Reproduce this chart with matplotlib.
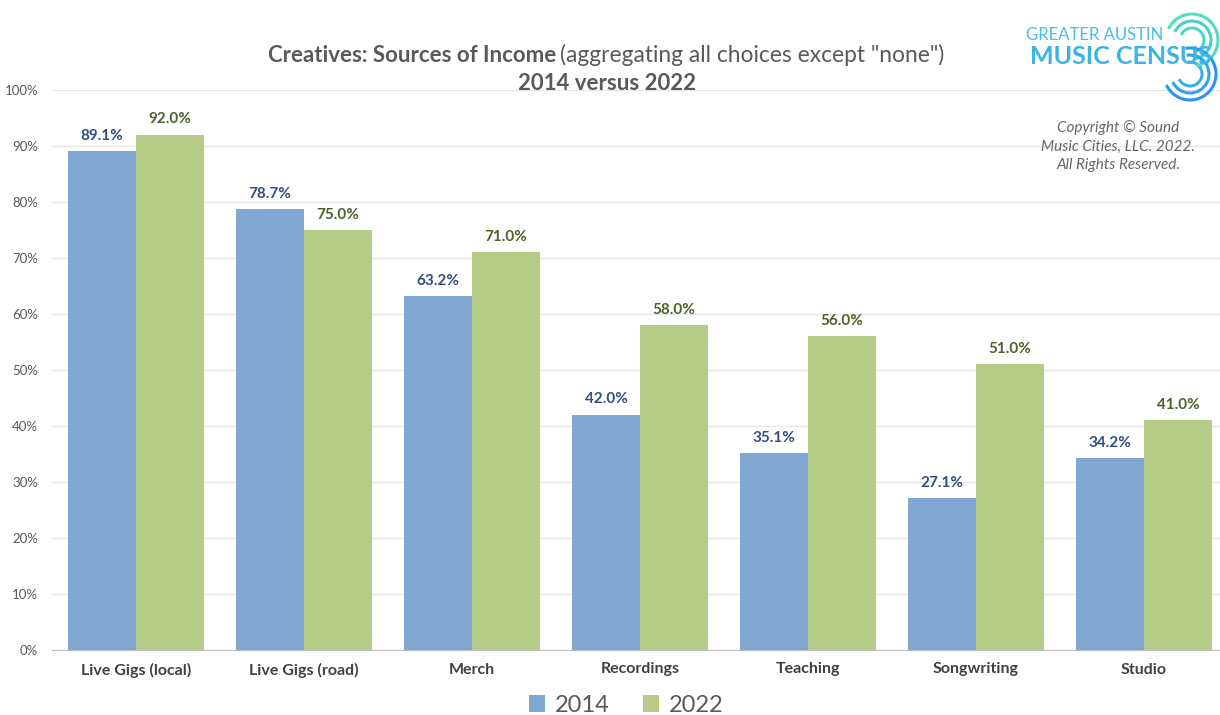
import numpy as np
import matplotlib
matplotlib.use("Agg")
import matplotlib.pyplot as plt
from matplotlib.patches import Arc

# data
categories = ["Live Gigs (local)", "Live Gigs (road)", "Merch", "Recordings",
              "Teaching", "Songwriting", "Studio"]
vals_2014 = [89.1, 78.7, 63.2, 42.0, 35.1, 27.1, 34.2]
vals_2022 = [92.0, 75.0, 71.0, 58.0, 56.0, 51.0, 41.0]
series_names = ["2014", "2022"]

plt.rcParams['font.family'] = ['Lato', 'DejaVu Sans']

blue = "#80a6d2"
green = "#b6cd88"
blue_txt = "#2e4f80"
green_txt = "#4e6128"
grey = "#595959"

fig = plt.figure(figsize=(12.2, 7.15), dpi=100)
ax = fig.add_axes([52 / 1220, 65 / 715, 1176 / 1220, 560 / 715])

x = np.arange(len(categories))
w = 0.405
b1 = ax.bar(x - w / 2, vals_2014, w, color=blue, label=series_names[0], zorder=3)
b2 = ax.bar(x + w / 2, vals_2022, w, color=green, label=series_names[1], zorder=3)

for rect, v in zip(b1, vals_2014):
    ax.text(rect.get_x() + rect.get_width() / 2, v + 1.5, f"{v:.1f}%",
            ha="center", va="bottom", fontsize=11, fontweight="bold", color=blue_txt)
for rect, v in zip(b2, vals_2022):
    ax.text(rect.get_x() + rect.get_width() / 2, v + 1.5, f"{v:.1f}%",
            ha="center", va="bottom", fontsize=11, fontweight="bold", color=green_txt)

ax.set_xlim(-0.5, len(categories) - 0.5)
ax.set_ylim(0, 100)
ax.set_yticks(np.arange(0, 101, 10))
ax.set_yticklabels([f"{t}%" for t in range(0, 101, 10)], fontsize=9.5, color=grey)
ax.set_xticks(x)
ax.set_xticklabels(categories, fontsize=11.5, fontweight="bold", color="#404040")
ax.tick_params(axis="x", length=0, pad=9)
ax.tick_params(axis="y", length=0, pad=10)
ax.grid(axis="y", color="#e8e8e8", lw=1, zorder=0)
for s in ["top", "right", "left"]:
    ax.spines[s].set_visible(False)
ax.spines["bottom"].set_color("#bfbfbf")

# title
fig.text(556 / 1220, 1 - 55 / 715, "Creatives: Sources of Income", ha="right", va="center",
         fontsize=16, fontweight="bold", color=grey)
fig.text(560 / 1220, 1 - 55 / 715, "(aggregating all choices except \"none\")", ha="left",
         va="center", fontsize=16.4, color=grey)
fig.text(607 / 1220, 1 - 83 / 715, "2014 versus 2022", ha="center", va="center",
         fontsize=16, fontweight="bold", color=grey)

# copyright
fig.text(1118 / 1220, 1 - 146 / 715, "Copyright \u00a9 Sound\nMusic Cities, LLC. 2022.\nAll Rights Reserved.",
         ha="center", va="center", fontsize=11, style="italic", color="#666666",
         linespacing=1.45, multialignment="center")

# logo
fig.text(1163 / 1220, 1 - 35 / 715, "GREATER AUSTIN", ha="right", va="center",
         fontsize=12, color="#45c0e2")
fig.text(1212 / 1220, 1 - 57 / 715, "MUSIC CENSUS", ha="right", va="center",
         fontsize=18, fontweight="bold", color="#3eb3e8")
lax = fig.add_axes([1140 / 1220, 1 - 110 / 715, 80 / 1220, 110 / 715])
lax.set_xlim(1140, 1220)
lax.set_ylim(0, 110)
lax.axis("off")
for r, c_top, c_bot in zip([12, 19, 26], ["#4cd6c4", "#48d0c8", "#52dcc0"],
                           ["#3ab0ea", "#33a2ec", "#2b94f0"]):
    lax.add_patch(Arc((1192, 110 - 40), r * 2, r * 2, theta1=-80, theta2=155,
                      lw=2.2, color=c_top))
    lax.add_patch(Arc((1190, 110 - 74), r * 2, r * 2, theta1=-155, theta2=100,
                      lw=2.2, color=c_bot))

# legend
leg = fig.legend(handles=[b1, b2], labels=series_names, loc="center",
                 bbox_to_anchor=(626 / 1220, 1 - 705 / 715), ncol=2, frameon=False,
                 fontsize=17, handlelength=0.7, handleheight=0.7,
                 handletextpad=0.4, columnspacing=1.4)
for t in leg.get_texts():
    t.set_color(grey)

fig.savefig("out.png", dpi=100, facecolor="white")
